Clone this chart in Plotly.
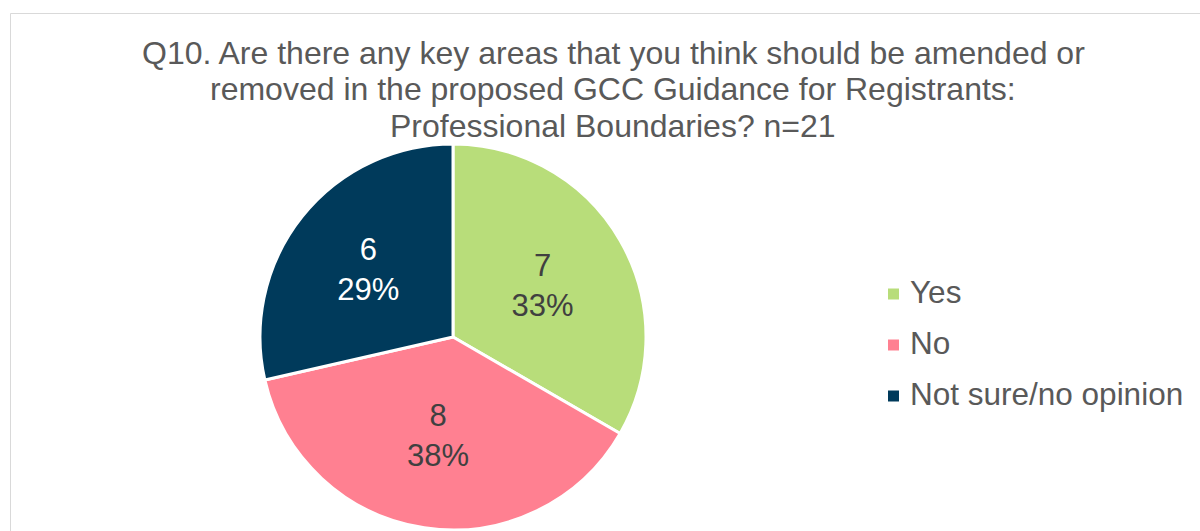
import plotly.graph_objects as go

# Survey responses
categories = ["Yes", "No", "Not sure/no opinion"]
counts = [7, 8, 6]
slice_colors = ["#B8DD7A", "#FF8091", "#003A5B"]
label_colors = ["#404040", "#404040", "#FFFFFF"]

title_lines = [
    "Q10. Are there any key areas that you think should be amended or",
    "removed in the proposed GCC Guidance for Registrants:",
    "Professional Boundaries? n=21",
]

W, H = 1200, 531
FONT = "Liberation Sans, Arial, sans-serif"
TEXT_GREY = "#595959"

# pie placement in pixels
cx, cy, r = 453, 337, 193

fig = go.Figure()
fig.add_trace(go.Pie(
    labels=categories,
    values=counts,
    sort=False,
    direction="clockwise",
    rotation=0,
    marker=dict(colors=slice_colors, line=dict(color="white", width=3)),
    texttemplate="%{value}<br>%{percent:.0%}",
    textposition="inside",
    insidetextorientation="horizontal",
    insidetextfont=dict(family=FONT, size=31, color=label_colors),
    hoverinfo="label+value+percent",
    showlegend=False,
    domain=dict(x=[(cx - r) / W, (cx + r) / W],
                y=[(H - cy - r) / H, (H - cy + r) / H]),
))

shapes = []
annotations = []

# chart frame
shapes.append(dict(type="rect", xref="paper", yref="paper",
                   x0=10.5 / W, x1=1.02, y0=-0.02, y1=1 - 13.5 / H,
                   line=dict(color="#D9D9D9", width=1), fillcolor="rgba(0,0,0,0)"))

# title, one annotation per line for tighter line spacing
title_x, title_y0, title_step = 613, 53, 36.5
for i, line in enumerate(title_lines):
    annotations.append(dict(xref="paper", yref="paper",
                            x=title_x / W, y=1 - (title_y0 + i * title_step) / H,
                            xanchor="center", yanchor="middle", showarrow=False,
                            text=line, font=dict(family=FONT, size=32, color=TEXT_GREY)))

# legend: square marker + label per category
leg_x, leg_y0, leg_step, sq = 888, 294, 51, 11
for i, (name, col) in enumerate(zip(categories, slice_colors)):
    yc = leg_y0 + i * leg_step
    shapes.append(dict(type="rect", xref="paper", yref="paper",
                       x0=leg_x / W, x1=(leg_x + sq) / W,
                       y0=1 - (yc + sq / 2) / H, y1=1 - (yc - sq / 2) / H,
                       line=dict(width=0), fillcolor=col))
    annotations.append(dict(xref="paper", yref="paper",
                            x=(leg_x + sq + 9) / W, y=1 - (yc - 2) / H,
                            xanchor="left", yanchor="middle", showarrow=False,
                            text=name, font=dict(family=FONT, size=31.5, color=TEXT_GREY)))

fig.update_layout(
    width=W, height=H,
    margin=dict(l=0, r=0, t=0, b=0),
    paper_bgcolor="white",
    plot_bgcolor="white",
    shapes=shapes,
    annotations=annotations,
)

fig.write_html("out.html")
